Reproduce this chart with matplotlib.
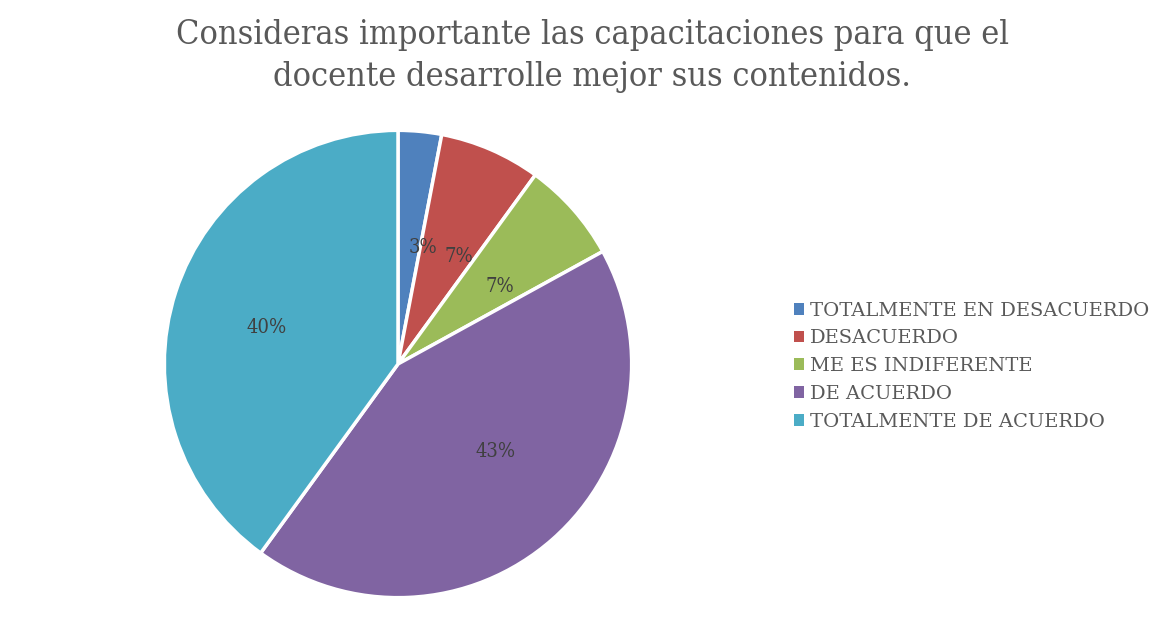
import matplotlib
matplotlib.use("Agg")
import matplotlib.pyplot as plt
from matplotlib.patches import Patch

title = "Consideras importante las capacitaciones para que el\ndocente desarrolle mejor sus contenidos."
categories = ["TOTALMENTE EN DESACUERDO", "DESACUERDO", "ME ES INDIFERENTE",
              "DE ACUERDO", "TOTALMENTE DE ACUERDO"]
values = [3, 7, 7, 43, 40]
labels = ["3%", "7%", "7%", "43%", "40%"]
colors = ["#4F81BD", "#C0504D", "#9BBB59", "#8064A2", "#4BACC6"]

W, H = 1165, 619
fig = plt.figure(figsize=(W / 100, H / 100), dpi=100)
fig.patch.set_facecolor("white")

cx, cy, r = 398, 364, 236
ax = fig.add_axes([(cx - r) / W, (H - cy - r) / H, 2 * r / W, 2 * r / H])
wedges, texts = ax.pie(values, labels=labels, colors=colors, startangle=90,
                       counterclock=False, labeldistance=0.5, radius=1,
                       wedgeprops=dict(edgecolor="white", linewidth=2.5),
                       textprops=dict(color="#404040", fontsize=14.5,
                                      family="DejaVu Serif", fontstretch="condensed"))
ax.set_xlim(-1.01, 1.01)
ax.set_ylim(-1.01, 1.01)
ax.set_aspect("equal")
ax.axis("off")

fig.text(592 / W, 1 - 56 / H, title, ha="center", va="center", fontsize=24.5,
         color="#595959", family="DejaVu Serif", fontstretch="condensed",
         linespacing=1.42)

handles = [Patch(facecolor=c, edgecolor="none") for c in colors]
fig.legend(handles, categories, loc="upper left",
           bbox_to_anchor=(784 / W, 1 - 292 / H), frameon=False,
           handlelength=0.55, handleheight=0.55, handletextpad=0.3,
           labelspacing=0.5, borderpad=0,
           prop=dict(family="DejaVu Serif", size=14),
           labelcolor="#595959")

fig.savefig("out.png", dpi=100, facecolor="white")
